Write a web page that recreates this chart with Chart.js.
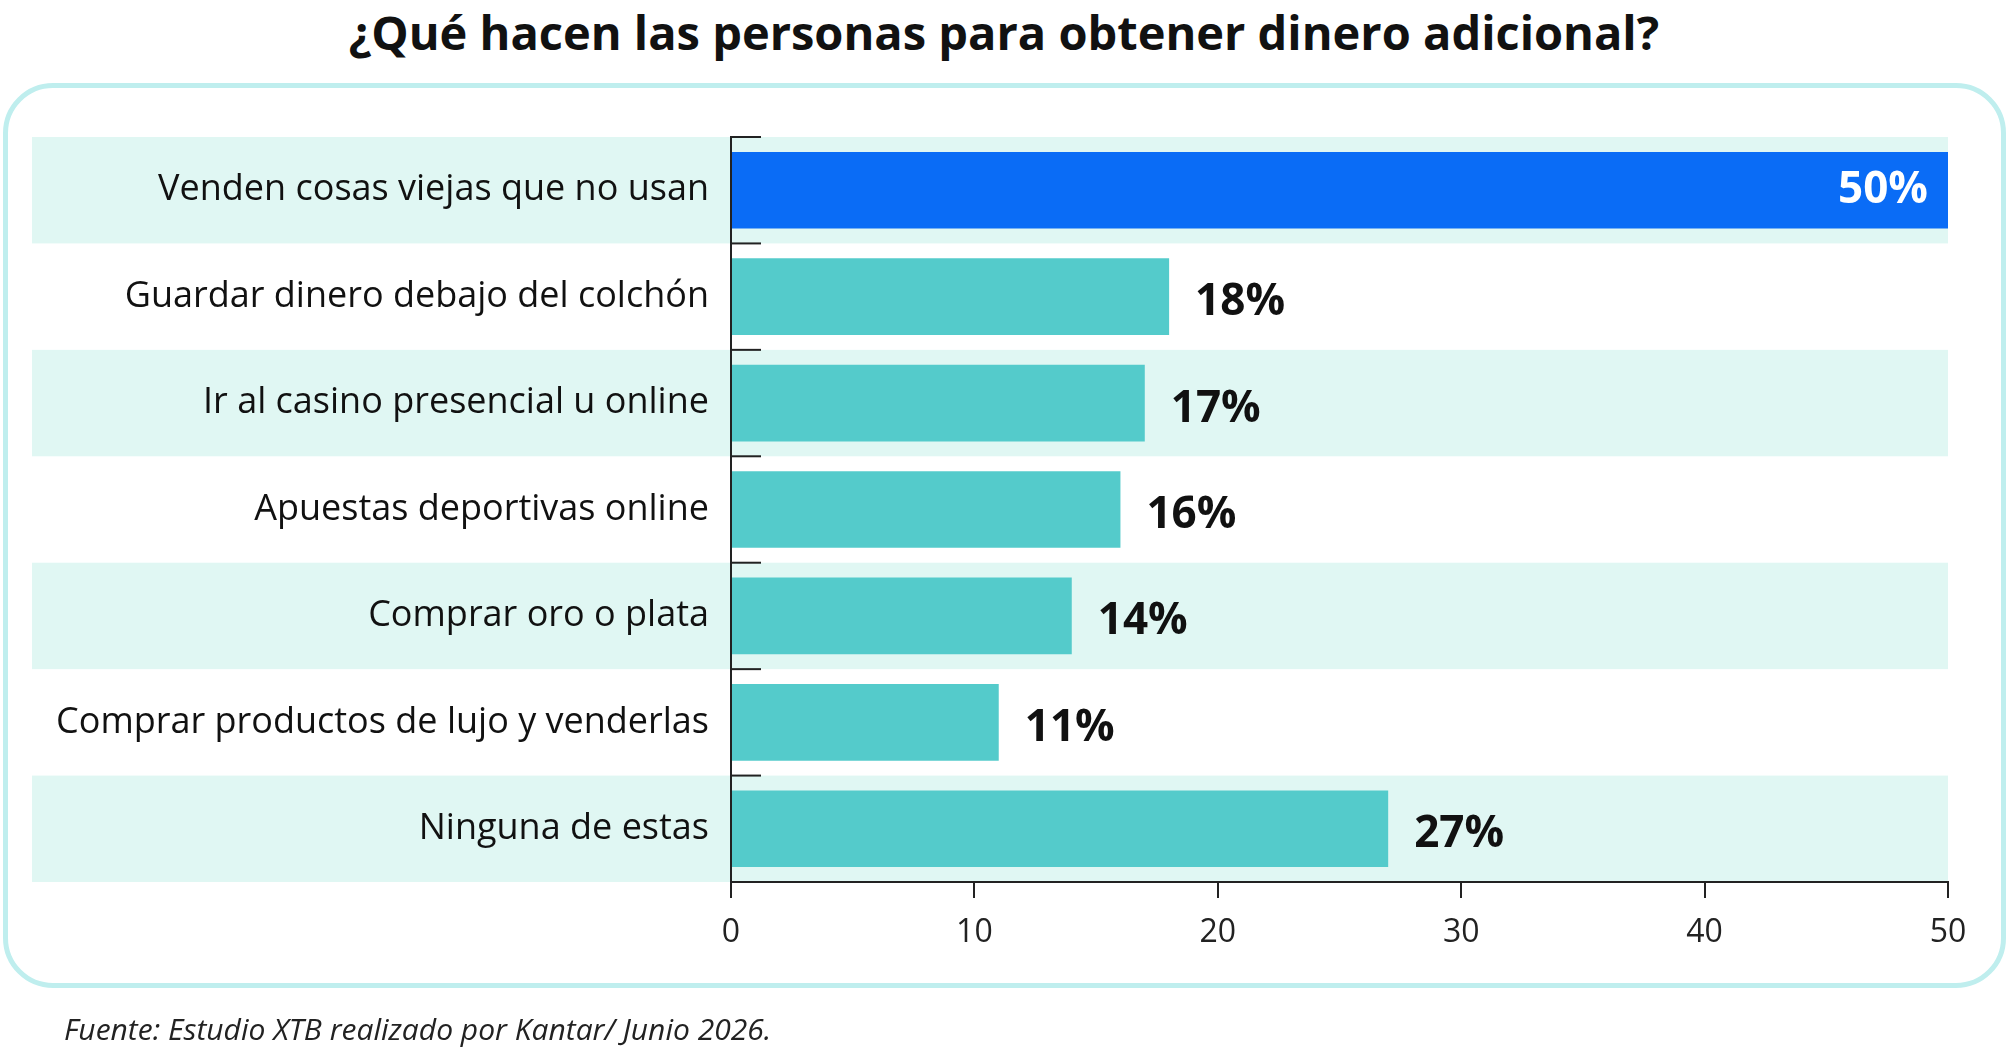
<!DOCTYPE html>
<html>
<head>
<meta charset="utf-8">
<script src="https://cdn.jsdelivr.net/npm/chart.js@4"></script>
<style>
  body { margin: 0; width: 2008px; height: 1053px; background: #fff; position: relative; overflow: hidden; font-family: "Open Sans", sans-serif; }
  #title { position: absolute; top: 0; left: 0; width: 2008px; text-align: center; font-weight: bold; font-size: 47px; line-height: 64px; color: #111; }
  #box { position: absolute; left: 3px; top: 83px; width: 1993px; height: 895px; border: 5px solid #bfeeee; border-radius: 50px; }
  #source { position: absolute; left: 64px; top: 1008px; font-style: italic; font-size: 30px; color: #222; }
  #wrap { position: absolute; left: 0; top: 0; width: 2008px; height: 1053px; }
</style>
</head>
<body>
<div id="title">¿Qué hacen las personas para obtener dinero adicional?</div>
<div id="box"></div>
<div id="wrap"><canvas id="chart"></canvas></div>
<div id="source">Fuente: Estudio XTB realizado por Kantar/ Junio 2026.</div>
<script>
const categories = [
  'Venden cosas viejas que no usan',
  'Guardar dinero debajo del colchón',
  'Ir al casino presencial u online',
  'Apuestas deportivas online',
  'Comprar oro o plata',
  'Comprar productos de lujo y venderlas',
  'Ninguna de estas'
];
const values = [50, 18, 17, 16, 14, 11, 27];
const xTicks = [0, 10, 20, 30, 40, 50];

// Alternating row bands, drawn before the axes so labels stay on top
const bandsPlugin = {
  id: 'bands',
  beforeDraw(chart) {
    const { ctx, chartArea, scales } = chart;
    const y = scales.y;
    const step = y.getPixelForValue(1) - y.getPixelForValue(0);
    ctx.save();
    categories.forEach((c, i) => {
      const top = y.getPixelForValue(i) - step / 2;
      if (i % 2 === 0) {
        ctx.fillStyle = '#e0f7f3';
        ctx.fillRect(32, top, chartArea.right - 32, step);
      }
    });
    ctx.restore();
  },
  beforeDatasetsDraw(chart) {
    const { ctx, chartArea, scales } = chart;
    const y = scales.y;
    const step = y.getPixelForValue(1) - y.getPixelForValue(0);
    ctx.save();
    ctx.strokeStyle = '#222';
    ctx.lineWidth = 2;
    categories.forEach((c, i) => {
      const top = y.getPixelForValue(i) - step / 2;
      ctx.beginPath();
      ctx.moveTo(chartArea.left, top);
      ctx.lineTo(chartArea.left + 30, top);
      ctx.stroke();
    });
    ctx.restore();
  }
};

// Value labels
const valuePlugin = {
  id: 'values',
  afterDatasetsDraw(chart) {
    const { ctx } = chart;
    const meta = chart.getDatasetMeta(0);
    ctx.save();
    ctx.font = 'bold 44px "Open Sans", sans-serif';
    ctx.textBaseline = 'middle';
    meta.data.forEach((bar, i) => {
      const txt = values[i] + '%';
      if (i === 0) {
        ctx.fillStyle = '#fff';
        ctx.textAlign = 'right';
        ctx.fillText(txt, bar.x - 20, bar.y);
      } else {
        ctx.fillStyle = '#111';
        ctx.textAlign = 'left';
        ctx.fillText(txt, bar.x + 26, bar.y + 6);
      }
    });
    ctx.restore();
  }
};

new Chart(document.getElementById('chart'), {
  type: 'bar',
  data: {
    labels: categories,
    datasets: [{
      data: values,
      backgroundColor: values.map((v, i) => i === 0 ? '#0a6cf6' : '#54cbcb'),
      borderWidth: 0,
      barPercentage: 0.72,
      categoryPercentage: 1
    }]
  },
  options: {
    indexAxis: 'y',
    responsive: true,
    maintainAspectRatio: false,
    animation: false,
    layout: { padding: { top: 137, right: 60, bottom: 0, left: 0 } },
    plugins: { legend: { display: false }, tooltip: { enabled: false } },
    scales: {
      x: {
        min: 0, max: 50,
        afterBuildTicks(scale) { scale.ticks = xTicks.map(v => ({ value: v })); },
        afterFit(scale) { scale.height = 171; },
        grid: { drawOnChartArea: false, drawTicks: true, tickLength: 16, color: '#222', lineWidth: 2 },
        border: { display: true, color: '#222', width: 2 },
        ticks: { color: '#222', font: { size: 32, family: '"Open Sans", sans-serif' }, padding: 16 }
      },
      y: {
        afterFit(scale) { scale.width = 731; },
        grid: { display: false },
        border: { display: true, color: '#222', width: 2 },
        ticks: { color: '#111', autoSkip: false, font: { size: 36, family: '"Open Sans", sans-serif' }, padding: 14 }
      }
    }
  },
  plugins: [bandsPlugin, valuePlugin]
});
</script>
</body>
</html>
